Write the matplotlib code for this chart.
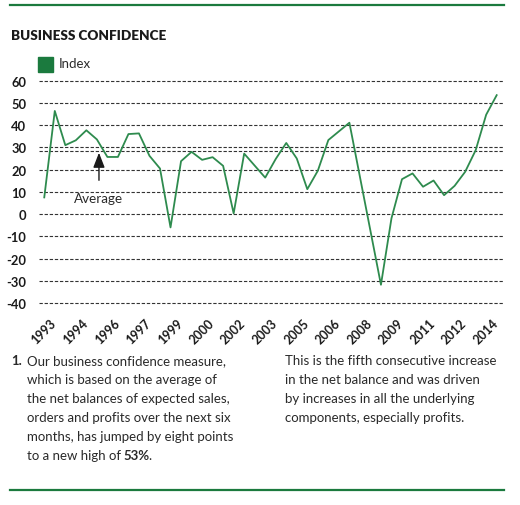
import matplotlib
matplotlib.use('Agg')
import matplotlib.pyplot as plt
from matplotlib.lines import Line2D
from matplotlib.patches import Rectangle

# half-yearly index readings, 1993 -> 2014
index_values = [7.5, 46.4, 31, 33.2, 37.7, 33.6, 25.7, 25.7, 36, 36.3,
                26.2, 20.5, -6, 23.8, 28, 24.4, 25.6, 21.7, 0.3, 27.2,
                21.8, 16.4, 24.8, 32, 25, 11.2, 19.5, 33.3, 37.2, 41.1,
                16.8, -7.5, -31.8, -1.9, 15.7, 18.3, 12.3, 15.1, 8.5, 12.7,
                19, 28.7, 44.7, 53.5]
year_labels = ['1993', '1994', '1996', '1997', '1999', '2000', '2002', '2003',
               '2005', '2006', '2008', '2009', '2011', '2012', '2014']
y_ticks = [60, 50, 40, 30, 20, 10, 0, -10, -20, -30, -40]
average = 28.6

note_left = ['Our business confidence measure,',
             'which is based on the average of',
             'the net balances of expected sales,',
             'orders and profits over the next six',
             'months, has jumped by eight points']
note_right = ['This is the fifth consecutive increase',
              'in the net balance and was driven',
              'by increases in all the underlying',
              'components, especially profits.']

GREEN = '#1b7a3e'
LINE_GREEN = '#2e8b4e'
TXT = '#2a2a2a'
FONT = 'Lato'

W, H = 520, 506
fig = plt.figure(figsize=(W / 100, H / 100), dpi=100)

def fx(px):
    return px / W

def fy(py):
    return 1 - py / H

# top / bottom rules
fig.add_artist(Line2D([fx(10), fx(504)], [fy(6), fy(6)], color=GREEN, lw=1.6))
fig.add_artist(Line2D([fx(10), fx(504)], [fy(490.5), fy(490.5)], color=GREEN, lw=1.6))

fig.text(fx(11), fy(36), 'BUSINESS CONFIDENCE', fontsize=9.7, fontweight='heavy',
         family=FONT, color='#1a1a1a', va='center', ha='left')

# legend
fig.add_artist(Rectangle((fx(38.3), fy(72.7)), fx(15), 15 / H, color=GREEN))
fig.text(fx(59), fy(64.5), 'Index', fontsize=9.5, family=FONT, color=TXT,
         va='center', ha='left')

ax = fig.add_axes([fx(39), fy(306.2), fx(464), (306.2 - 79.5) / H])
x = list(range(len(index_values)))
ax.set_xlim(-0.5, 43.6)
ax.set_ylim(-41, 61)

for v in y_ticks:
    ax.axhline(v, color='#333333', lw=0.8, ls=(0, (3, 1.6)), zorder=1)
ax.axhline(average, color='#333333', lw=0.8, ls=(0, (3, 1.6)), zorder=1)

ax.plot(x, index_values, color=LINE_GREEN, lw=1.3, zorder=3)

ax.annotate('', xy=(5.2, 27.6), xytext=(5.2, 15.2),
            arrowprops=dict(arrowstyle='-|>,head_width=0.35,head_length=0.9',
                            color='#1a1a1a', lw=1.0, shrinkA=0, shrinkB=0))
ax.text(5.2, 7.3, 'Average', fontsize=9.7, family=FONT, color=TXT,
        ha='center', va='center')

for s in ax.spines.values():
    s.set_visible(False)

ax.set_yticks(y_ticks)
ax.set_yticklabels([str(v) for v in y_ticks], family=FONT, fontsize=9.3,
                   fontweight='bold', color='#1a1a1a')
ax.tick_params(axis='y', length=0, pad=9)

ax.set_xticks([3 * k + 0.55 for k in range(len(year_labels))])
ax.set_xticklabels(year_labels, rotation=45, ha='right', va='top',
                   rotation_mode='anchor', family=FONT, fontsize=9,
                   fontweight='bold', color='#1a1a1a')
ax.tick_params(axis='x', length=0, pad=8)

# footnote text
FS = 9.5
step = 18.9
fig.text(fx(11.5), fy(361.5), '1.', fontsize=FS, fontweight='bold', family=FONT,
         color=TXT, va='center')
for i, line in enumerate(note_left):
    fig.text(fx(27.3), fy(361.5 + i * step), line, fontsize=FS, family=FONT,
             color=TXT, va='center')
for i, line in enumerate(note_right):
    fig.text(fx(285), fy(361.5 + i * step), line, fontsize=FS, family=FONT,
             color=TXT, va='center')

# last line with the bold figure
renderer = fig.canvas.get_renderer()
y_last = fy(361.5 + 5 * step)
xpos = fx(27.3)
for part, weight in [('to a new high of ', 'normal'), ('53%', 'bold'), ('.', 'normal')]:
    t = fig.text(xpos, y_last, part, fontsize=FS, family=FONT, fontweight=weight,
                 color=TXT, va='center')
    bb = t.get_window_extent(renderer=renderer)
    xpos += (bb.width - 1.5) / W

fig.savefig('out.png', dpi=100)
